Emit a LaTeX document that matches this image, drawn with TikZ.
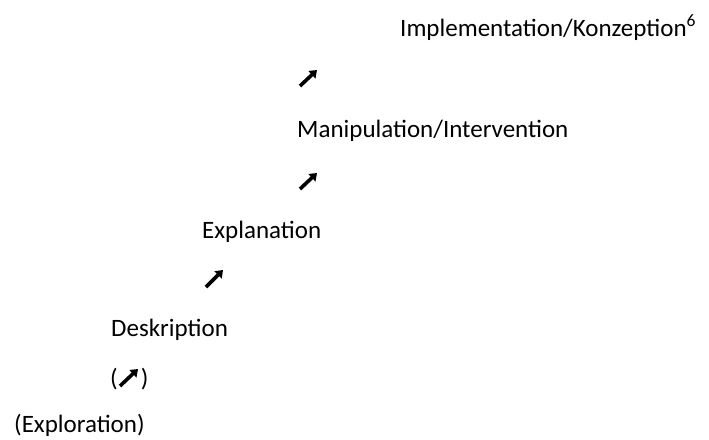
\documentclass[tikz,border=0pt]{standalone}
\usepackage{fontspec}
\setmainfont{Carlito}
\usetikzlibrary{arrows.meta}
\begin{document}
\begin{tikzpicture}[x=1pt,y=-1pt,
  lab/.style={anchor=base west,inner sep=0pt,font=\fontsize{25}{30}\selectfont},
  upar/.style={line width=3.6pt,-{Triangle[length=7pt,width=10pt]}}]
\useasboundingbox (0,0) rectangle (709,439);
\node[lab] (impl) at (400,36) {Implementation/Konzeption\textsuperscript{6}};
\node[lab] (mani) at (297,137) {Manipulation/Intervention};
\node[lab] (expl) at (202,238) {Explanation};
\node[lab] (desk) at (111,336) {Deskription};
\node[lab] (par) at (110,386) {(\hspace{23pt})};
\node[lab] (explo) at (14,432) {(Exploration)};
\coordinate (a1s) at (300,86); \coordinate (a1e) at (317,70);
\coordinate (a2s) at (300,189); \coordinate (a2e) at (317,173);
\coordinate (a3s) at (206,287); \coordinate (a3e) at (223,270);
\coordinate (a4s) at (120,386); \coordinate (a4e) at (138,369);
\draw[upar] (a1s) -- (a1e);
\draw[upar] (a2s) -- (a2e);
\draw[upar] (a3s) -- (a3e);
\draw[upar] (a4s) -- (a4e);
\end{tikzpicture}
\end{document}
